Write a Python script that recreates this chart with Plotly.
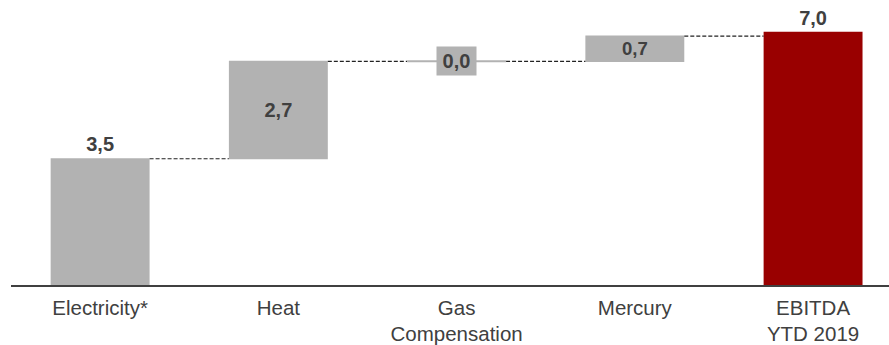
import plotly.graph_objects as go

# EBITDA bridge, YTD 2019
categories = ["Electricity*", "Heat", "Gas<br>Compensation", "Mercury", "EBITDA<br>YTD 2019"]
values = [3.5, 2.7, 0.0, 0.7, 7.0]
measures = ["relative", "relative", "relative", "relative", "absolute"]

GREY = "#b2b2b2"
RED = "#990000"
TEXT = "#404040"
FONT = "Liberation Sans, Arial, sans-serif"
BAR_WIDTH = 0.555


def fmt(v):
    return f"{v:.1f}".replace(".", ",")


labels = [fmt(v) for v in values]
# the zero step gets a boxed label instead of in-bar text
bar_text = [t if v != 0 else "" for t, v in zip(labels, values)]
text_pos = ["outside", "inside", "inside", "inside", "outside"]

fig = go.Figure(
    go.Waterfall(
        x=categories,
        y=values,
        measure=measures,
        text=bar_text,
        textposition=text_pos,
        insidetextanchor="middle",
        textfont=dict(family=FONT, size=20, color=TEXT, weight="bold"),
        increasing=dict(marker=dict(color=GREY, line=dict(width=0))),
        decreasing=dict(marker=dict(color=GREY, line=dict(width=0))),
        totals=dict(marker=dict(color=RED, line=dict(width=0))),
        connector=dict(mode="between", line=dict(color="#222222", width=1.2, dash="4px,2px")),
        cliponaxis=False,
        width=BAR_WIDTH,
    )
)

# zero step: a flat grey line at the running total plus a boxed label
zero_idx = values.index(0.0)
running = sum(values[:zero_idx + 1])
fig.add_shape(
    type="line",
    xref="x",
    yref="y",
    x0=zero_idx - BAR_WIDTH / 2,
    x1=zero_idx + BAR_WIDTH / 2,
    y0=running,
    y1=running,
    line=dict(color=GREY, width=2),
    layer="above",
)
fig.add_annotation(
    x=zero_idx,
    y=running,
    text=labels[zero_idx],
    showarrow=False,
    bgcolor=GREY,
    width=37,
    height=26,
    font=dict(family=FONT, size=20, color=TEXT, weight="bold"),
)

fig.update_layout(
    width=889,
    height=345,
    margin=dict(l=11, r=0, t=0, b=60),
    paper_bgcolor="white",
    plot_bgcolor="white",
    showlegend=False,
    xaxis=dict(
        type="category",
        range=[-0.5, 4.426],
        showline=True,
        linecolor=TEXT,
        linewidth=2,
        showgrid=False,
        zeroline=False,
        ticks="",
        ticklabelstandoff=3,
        tickfont=dict(family=FONT, size=20.5, color=TEXT),
    ),
    yaxis=dict(
        range=[0, 7.9],
        visible=False,
        showgrid=False,
        zeroline=False,
    ),
)

fig.write_html("out.html")
